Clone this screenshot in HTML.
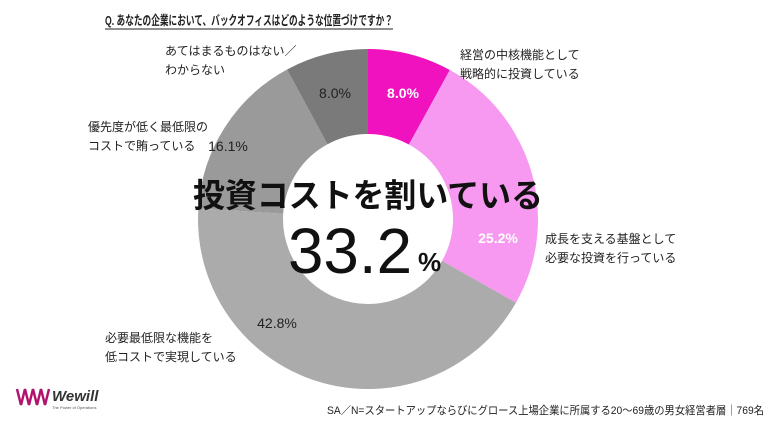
<!DOCTYPE html>
<html><head><meta charset="utf-8"><style>
body{margin:0;background:#fff;}
svg text{font-family:"Liberation Sans","Noto Sans CJK JP",sans-serif;}
</style></head><body>
<svg width="770" height="433" viewBox="0 0 770 433" xmlns="http://www.w3.org/2000/svg">
<rect width="770" height="433" fill="#fff"/>
<text x="105" y="25" font-size="13" font-weight="bold" fill="#222" textLength="288" lengthAdjust="spacingAndGlyphs">Q.  あなたの企業において、バックオフィスはどのような位置づけですか？</text>
<line x1="105" y1="29" x2="393" y2="29" stroke="#222" stroke-width="1"/>
<g transform="rotate(-90 368 219)" fill="none" stroke-width="85">
<circle cx="368" cy="219" r="127.5" pathLength="100" stroke="#f012be" stroke-dasharray="8 92" stroke-dashoffset="0"/>
<circle cx="368" cy="219" r="127.5" pathLength="100" stroke="#f799f0" stroke-dasharray="25.2 74.8" stroke-dashoffset="-8"/>
<circle cx="368" cy="219" r="127.5" pathLength="100" stroke="#ababab" stroke-dasharray="42.8 57.2" stroke-dashoffset="-33.2"/>
<circle cx="368" cy="219" r="127.5" pathLength="100" stroke="#9a9a9a" stroke-dasharray="16.1 83.9" stroke-dashoffset="-76"/>
<circle cx="368" cy="219" r="127.5" pathLength="100" stroke="#7a7a7a" stroke-dasharray="7.9 92.1" stroke-dashoffset="-92.1"/>
</g>
<g font-size="14">
<text x="403" y="98" text-anchor="middle" fill="#fff" font-weight="bold">8.0%</text>
<text x="335" y="98" text-anchor="middle" fill="#222">8.0%</text>
<text x="228" y="151" text-anchor="middle" fill="#222">16.1%</text>
<text x="498" y="243" text-anchor="middle" fill="#fff" font-weight="bold">25.2%</text>
<text x="277" y="328" text-anchor="middle" fill="#222">42.8%</text>
</g>
<text x="368" y="207" text-anchor="middle" font-size="33" font-weight="bold" fill="#111" textLength="350" lengthAdjust="spacingAndGlyphs">投資コストを割いている</text>
<text x="350" y="273" text-anchor="middle" font-size="64" fill="#111" textLength="124" lengthAdjust="spacingAndGlyphs">33.2</text>
<text x="418" y="271" font-size="26" font-weight="bold" fill="#111">%</text>
<g font-size="12" fill="#222">
<text x="165" y="55">あてはまるものはない／</text>
<text x="165" y="74">わからない</text>
<text x="460" y="59">経営の中核機能として</text>
<text x="460" y="78">戦略的に投資している</text>
<text x="88" y="131">優先度が低く最低限の</text>
<text x="88" y="150">コストで賄っている</text>
<text x="545" y="243">成長を支える基盤として</text>
<text x="545" y="262">必要な投資を行っている</text>
<text x="105" y="342">必要最低限な機能を</text>
<text x="105" y="361">低コストで実現している</text>
</g>
<text x="327" y="414" font-size="11" fill="#222" textLength="437" lengthAdjust="spacingAndGlyphs">SA／N=スタートアップならびにグロース上場企業に所属する20～69歳の男女経営者層｜769名</text>
<path d="M17 389 L21 405 L25 389 L29 405 L33 389 L37 405 L41 389 L45 405 L49 389" fill="none" stroke="#b0156e" stroke-width="2.5"/>
<text x="52" y="401" font-size="15" font-weight="bold" font-style="italic" fill="#333">Wewill</text>
<text x="52" y="409" font-size="4" fill="#555">The Power of Operations</text>
</svg>
</body></html>
